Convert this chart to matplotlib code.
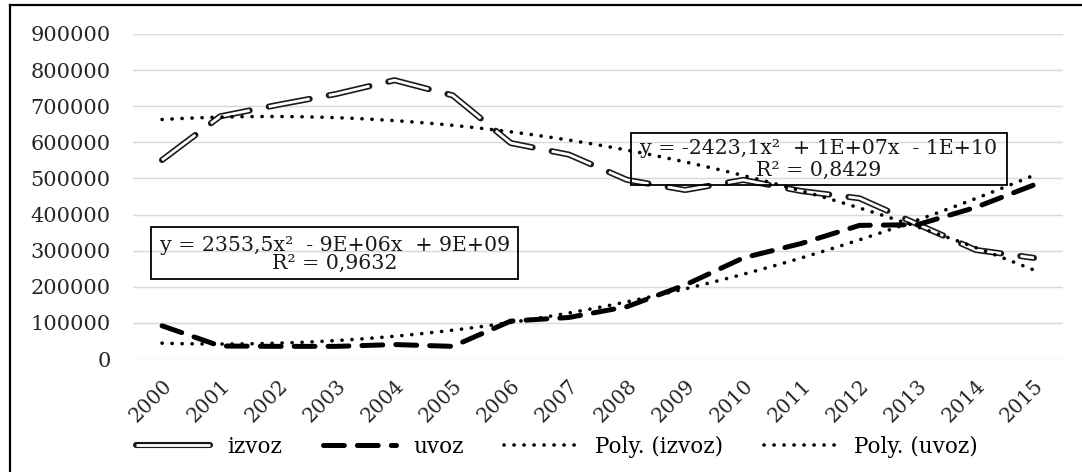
import numpy as np
import matplotlib
matplotlib.use("Agg")
import matplotlib.pyplot as plt
from matplotlib.lines import Line2D
from matplotlib.patches import Rectangle
from matplotlib.legend_handler import HandlerTuple

# Data
years = ["2000", "2001", "2002", "2003", "2004", "2005", "2006", "2007",
         "2008", "2009", "2010", "2011", "2012", "2013", "2014", "2015"]
izvoz = [551000, 672000, 704000, 734000, 772000, 730000, 598000, 566000,
         496000, 468000, 496000, 465000, 445000, 373000, 302000, 280000]
uvoz = [92000, 36000, 35000, 35000, 40000, 35000, 105000, 115000,
        145000, 205000, 280000, 320000, 370000, 372000, 420000, 482000]
series_labels = ["izvoz", "uvoz", "Poly. (izvoz)", "Poly. (uvoz)"]
eq_izvoz = ["y = -2423,1x\u00b2  + 1E+07x  - 1E+10", "R\u00b2 = 0,8429"]
eq_uvoz = ["y = 2353,5x\u00b2  - 9E+06x  + 9E+09", "R\u00b2 = 0,9632"]
y_ticks = list(range(0, 900001, 100000))

plt.rcParams["font.family"] = ["DejaVu Serif"]
plt.rcParams["lines.scale_dashes"] = False

fig = plt.figure(figsize=(10.82, 4.72), dpi=100)
ax = fig.add_axes([0.1229, 0.2394, 0.8595, 0.6886])

x = np.arange(len(years))
ax.set_xlim(-0.5, len(years) - 0.5)
ax.set_ylim(0, 900000)

# Export series: hollow double line, long dashes
dash_iz = (0, (30, 14))
ax.plot(x, izvoz, color="#1a1a1a", lw=4.4, linestyle=dash_iz,
        dash_capstyle="round", dash_joinstyle="round", zorder=3)
ax.plot(x, izvoz, color="white", lw=2.0, linestyle=dash_iz,
        dash_capstyle="butt", dash_joinstyle="round", zorder=3.1)

# Import series: bold dashes
uvoz_line, = ax.plot(x, uvoz, color="black", lw=3.6, linestyle=(0, (15, 9.4)),
                     dash_capstyle="round", dash_joinstyle="round", zorder=4)

# Second-order polynomial trendlines
xt = np.linspace(0, len(years) - 1, 300)
dot = (0, (0.1, 7.1))
trend_lines = []
for vals in (izvoz, uvoz):
    c = np.polyfit(x, vals, 2)
    ln, = ax.plot(xt, np.polyval(c, xt), color="black", lw=2.6, linestyle=dot,
                  dash_capstyle="round", zorder=5)
    trend_lines.append(ln)

# Axes styling
ax.set_yticks(y_ticks)
ax.set_yticklabels([str(v) for v in y_ticks])
ax.set_xticks(x)
ax.set_xticklabels(years, rotation=45, ha="right", va="top",
                   rotation_mode="anchor")
ax.tick_params(axis="y", length=0, pad=16, labelsize=15, labelcolor="#262626")
ax.tick_params(axis="x", length=0, pad=12, labelsize=14.5, labelcolor="#262626")
ax.grid(axis="y", color="#d9d9d9", lw=1.0)
ax.set_axisbelow(True)
for s in ax.spines.values():
    s.set_visible(False)

# Trendline equation boxes
def eq_box(x0, y0, w, h, lines, cx, y1, y2):
    ax.add_patch(Rectangle((x0, y0), w, h, transform=ax.transAxes, fill=False,
                           edgecolor="black", lw=1.3, zorder=6))
    ax.text(cx, y1, lines[0], transform=ax.transAxes, ha="center", va="center",
            fontsize=14.8, color="#1a1a1a", zorder=7)
    ax.text(cx, y2, lines[1], transform=ax.transAxes, ha="center", va="center",
            fontsize=14.8, color="#1a1a1a", zorder=7)

eq_box(0.0194, 0.246, 0.3946, 0.160, eq_uvoz, 0.217, 0.350, 0.295)
eq_box(0.5355, 0.535, 0.4043, 0.160, eq_izvoz, 0.737, 0.648, 0.580)

# Legend
iz_handle = (Line2D([], [], color="#1a1a1a", lw=4.4, solid_capstyle="round"),
             Line2D([], [], color="white", lw=2.0, solid_capstyle="butt"))
fig.legend([iz_handle, uvoz_line, trend_lines[0], trend_lines[1]], series_labels,
           handler_map={tuple: HandlerTuple(ndivide=1)},
           loc="center", bbox_to_anchor=(0.515, 0.053), ncol=4, frameon=False,
           fontsize=15.5, handlelength=3.4, handletextpad=0.8, columnspacing=1.9)

# Outer frame (top and left edges)
fig.add_artist(Line2D([10 / 1082, 1.0], [1 - 5 / 472, 1 - 5 / 472],
                      transform=fig.transFigure, color="black", lw=1.6))
fig.add_artist(Line2D([10 / 1082, 10 / 1082], [0.0, 1 - 5 / 472],
                      transform=fig.transFigure, color="black", lw=1.6))

fig.savefig("out.png", dpi=100)
